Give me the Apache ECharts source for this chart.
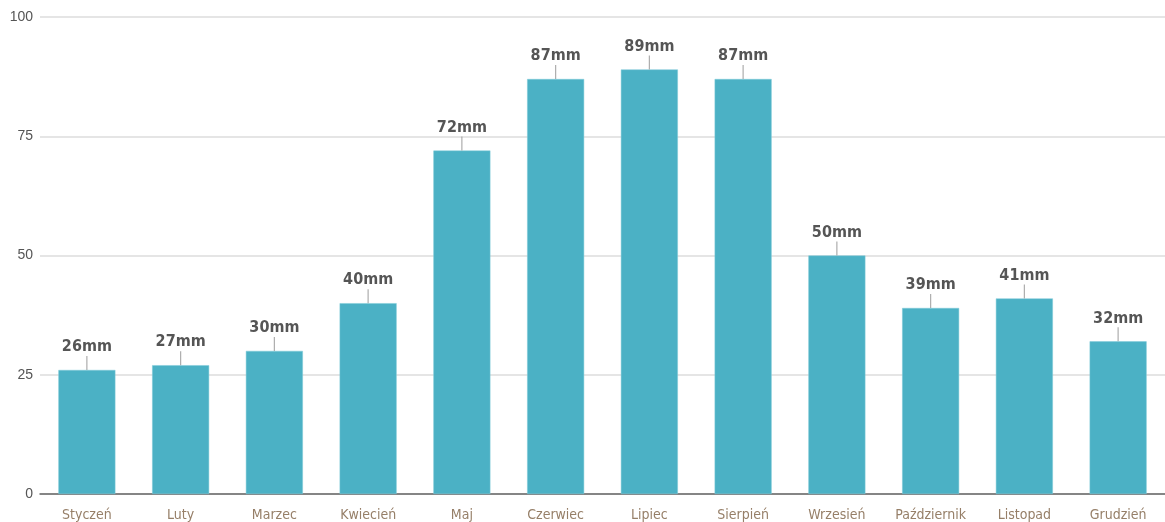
<!DOCTYPE html>
<html>
<head>
<meta charset="utf-8">
<script src="https://cdn.jsdelivr.net/npm/echarts@6/dist/echarts.min.js"></script>
<style>
html,body{margin:0;padding:0;background:#fff;}
#chart{width:1165px;height:522px;}
</style>
</head>
<body>
<div id="chart"></div>
<script>
const categories = ['Styczeń','Luty','Marzec','Kwiecień','Maj','Czerwiec','Lipiec','Sierpień','Wrzesień','Październik','Listopad','Grudzień'];
const rainfall = [26, 27, 30, 40, 72, 87, 89, 87, 50, 39, 41, 32];
const yTicks = [0, 25, 50, 75, 100];

const condensed = '"Liberation Sans Narrow", "DejaVu Sans Condensed", "Roboto", sans-serif';
const chart = echarts.init(document.getElementById('chart'));
chart.setOption({
  animation: false,
  grid: { left: 40, right: 0, top: 17, bottom: 27 },
  xAxis: {
    type: 'category',
    data: categories,
    axisTick: { show: false },
    axisLine: { lineStyle: { color: '#666', width: 1.5 } },
    axisLabel: { color: '#967f68', fontFamily: condensed, fontSize: 14, margin: 14 }
  },
  yAxis: {
    type: 'value',
    min: yTicks[0],
    max: yTicks[yTicks.length - 1],
    interval: 25,
    axisLine: { show: false },
    axisTick: { show: false },
    splitLine: { lineStyle: { color: '#dcdcdc', width: 1.5 } },
    axisLabel: { color: '#555', fontFamily: 'Arial, "Liberation Sans", sans-serif', fontSize: 14, margin: 7 }
  },
  series: [
    {
      type: 'bar',
      data: rainfall,
      barWidth: 57,
      itemStyle: { color: '#4bb1c5', borderColor: '#7fcbd8', borderWidth: 0.5 },
      label: {
        show: true,
        position: 'top',
        distance: 15,
        formatter: p => p.value + 'mm',
        color: '#555',
        fontFamily: condensed,
        fontSize: 16,
        fontWeight: 'bold'
      },
      z: 2
    },
    {
      type: 'scatter',
      data: rainfall,
      symbol: 'rect',
      symbolSize: [1.2, 14],
      symbolOffset: [0, '-50%'],
      itemStyle: { color: '#999' },
      silent: true,
      z: 3
    }
  ]
});
</script>
</body>
</html>
